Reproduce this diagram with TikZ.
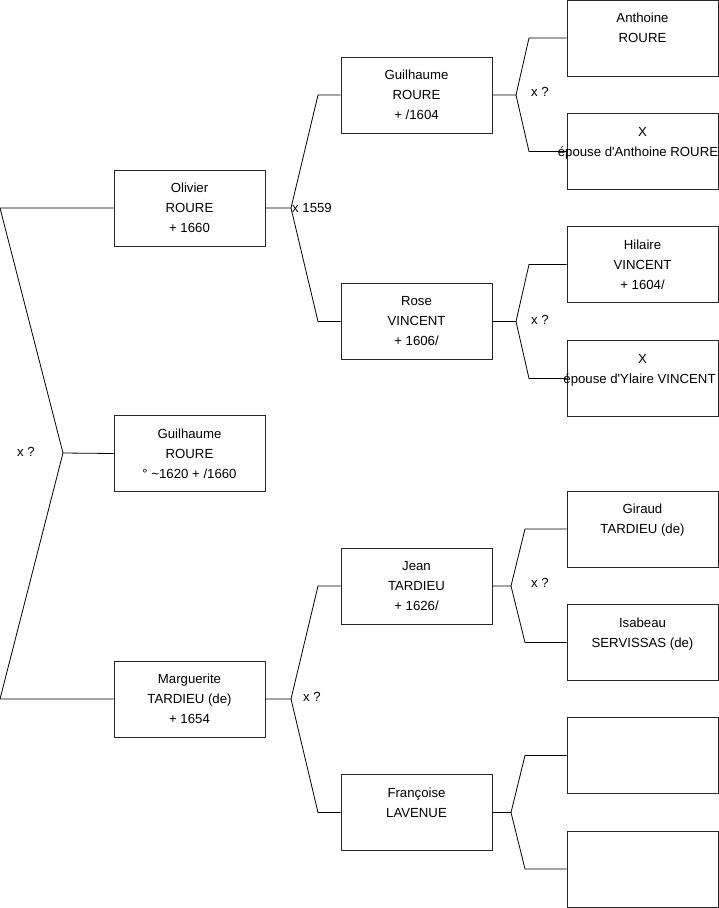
\documentclass[tikz,border=0pt]{standalone}
\usepackage{fontspec}
\setmainfont{Liberation Sans}
\begin{document}
\begin{tikzpicture}[x=1pt,y=-1pt,
  pbox/.style={draw=black!85, line width=0.8pt, minimum width=151pt, minimum height=76pt, inner sep=0pt, align=center, font=\fontsize{13.2}{20}\selectfont},
  conn/.style={draw=black, line width=0.8pt},
  lbl/.style={font=\fontsize{13.2}{14}\selectfont, inner sep=0pt}]
\useasboundingbox (0,0) rectangle (719,908);
% generation 1
\node[pbox] (olivier) at (189.5,208) {Olivier\\ROURE\\+ 1660};
\node[pbox] (guil0) at (189.5,453.5) {Guilhaume\\ROURE\\° \textasciitilde1620 + /1660};
\node[pbox] (marg) at (189.5,699) {Marguerite\\TARDIEU (de)\\+ 1654};
% generation 2
\node[pbox] (g1) at (416.5,95) {Guilhaume\\ROURE\\+ /1604};
\node[pbox] (g2) at (416.5,321.5) {Rose\\VINCENT\\+ 1606/};
\node[pbox] (g3) at (416.5,586) {Jean\\TARDIEU\\+ 1626/};
\node[pbox] (g4) at (416.5,812.5) {Françoise\\LAVENUE\\\mbox{}};
% generation 3
\node[pbox] (a1) at (642.5,38) {Anthoine\\ROURE\\\mbox{}};
\node[pbox] (a2) at (642.5,151.5) {X\\\makebox[0pt]{épouse d\textquotesingle Anthoine ROURE\hspace{9pt}}\\\mbox{}};
\node[pbox] (a3) at (642.5,264.5) {Hilaire\\VINCENT\\+ 1604/};
\node[pbox] (a4) at (642.5,378.5) {X\\\makebox[0pt]{épouse d\textquotesingle Ylaire VINCENT\hspace{6pt}}\\\mbox{}};
\node[pbox] (a5) at (642.5,529) {Giraud\\TARDIEU (de)\\\mbox{}};
\node[pbox] (a6) at (642.5,642.5) {Isabeau\\SERVISSAS (de)\\\mbox{}};
\node[pbox] (a7) at (642.5,755.5) {};
\node[pbox] (a8) at (642.5,869) {};
% junction coordinates
\coordinate (r0a) at (0,208); \coordinate (j0) at (63,453); \coordinate (r0b) at (0,699);
\coordinate (j1) at (291,208); \coordinate (k1a) at (318,95); \coordinate (k1b) at (318,321.5);
\coordinate (j2) at (291,699); \coordinate (k2a) at (318,586); \coordinate (k2b) at (318,812.5);
\coordinate (j3) at (516,95); \coordinate (k3a) at (529,38); \coordinate (k3b) at (529,151.5);
\coordinate (j4) at (516,321.5); \coordinate (k4a) at (529,264.5); \coordinate (k4b) at (529,378.5);
\coordinate (j5) at (511,586); \coordinate (k5a) at (525,529); \coordinate (k5b) at (525,642.5);
\coordinate (j6) at (511,812.5); \coordinate (k6a) at (525,755.5); \coordinate (k6b) at (525,869);
% connectors
\draw[conn] (olivier.west) -- (r0a) -- (j0) -- (r0b) -- (marg.west);
\draw[conn] (j0) -- (guil0.west);
\draw[conn] (olivier.east) -- (j1) -- (k1a) -- (g1.west);
\draw[conn] (j1) -- (k1b) -- (g2.west);
\draw[conn] (marg.east) -- (j2) -- (k2a) -- (g3.west);
\draw[conn] (j2) -- (k2b) -- (g4.west);
\draw[conn] (g1.east) -- (j3) -- (k3a) -- (a1.west);
\draw[conn] (j3) -- (k3b) -- (a2.west);
\draw[conn] (g2.east) -- (j4) -- (k4a) -- (a3.west);
\draw[conn] (j4) -- (k4b) -- (a4.west);
\draw[conn] (g3.east) -- (j5) -- (k5a) -- (a5.west);
\draw[conn] (j5) -- (k5b) -- (a6.west);
\draw[conn] (g4.east) -- (j6) -- (k6a) -- (a7.west);
\draw[conn] (j6) -- (k6b) -- (a8.west);
% union labels
\node[lbl] (u0) at (26,452) {x ?};
\node[lbl, anchor=west] (u1) at (292,208) {x 1559};
\node[lbl] (u2) at (312,697) {x ?};
\node[lbl] (u3) at (540,92) {x ?};
\node[lbl] (u4) at (540,320) {x ?};
\node[lbl] (u5) at (540,583) {x ?};
\end{tikzpicture}
\end{document}
